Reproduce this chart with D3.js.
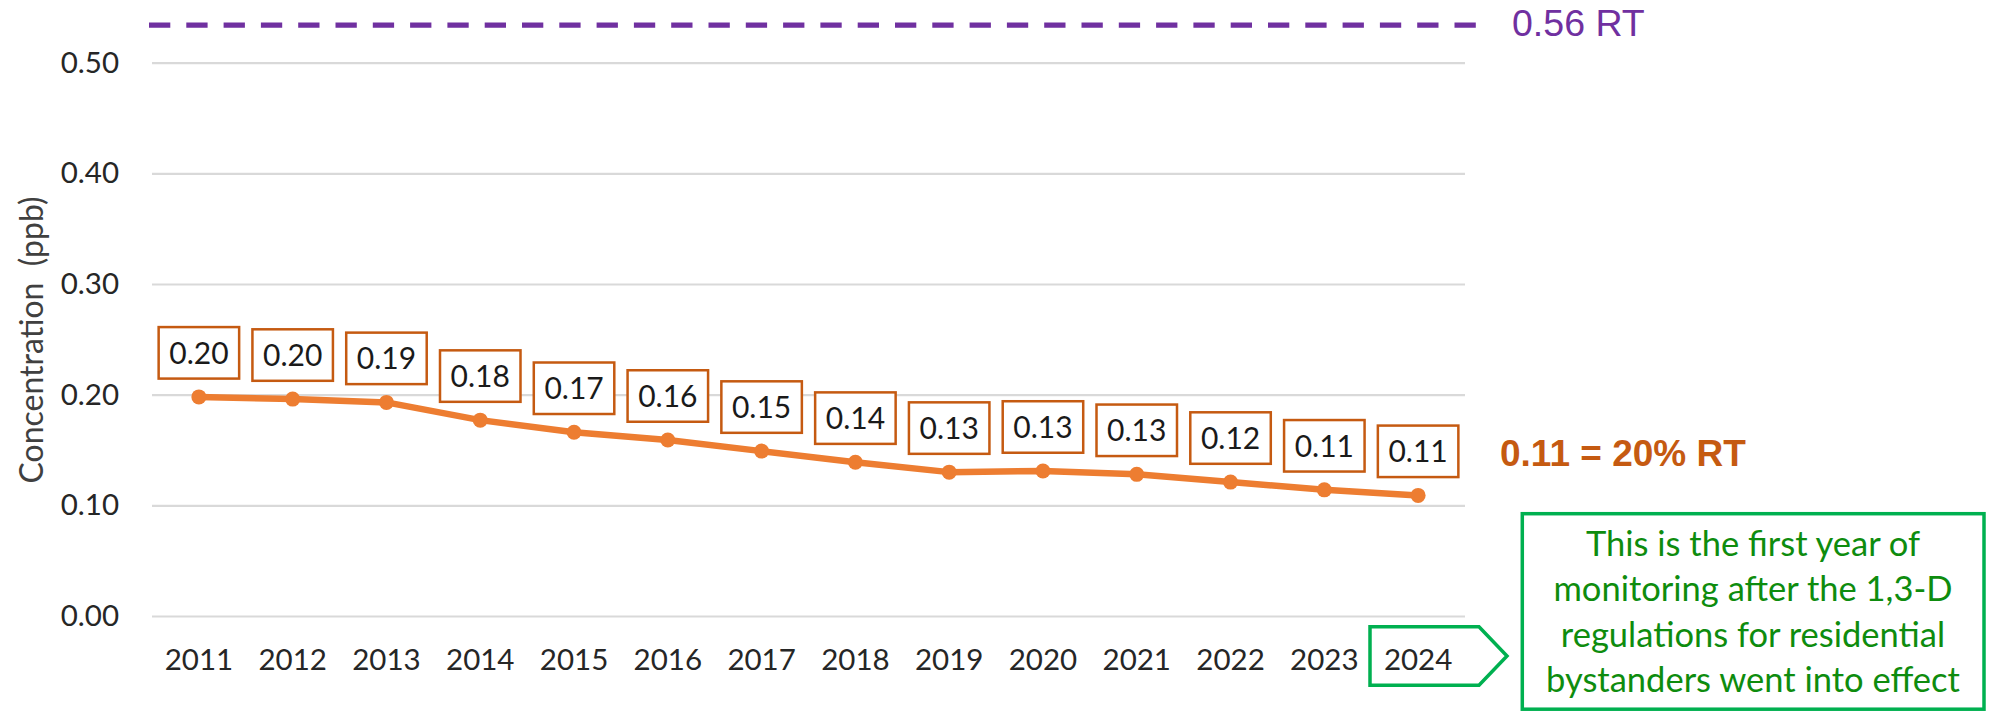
<!DOCTYPE html>
<html>
<head>
<meta charset="utf-8">
<script src="https://cdn.jsdelivr.net/npm/d3@7"></script>
<style>
  body { margin: 0; background: #fff; }
  svg { display: block; }
  text { font-family: Lato, "Open Sans", sans-serif; }
</style>
</head>
<body>
<svg id="chart" width="1994" height="712"></svg>
<script>
// data
var years = ["2011", "2012", "2013", "2014", "2015", "2016", "2017",
             "2018", "2019", "2020", "2021", "2022", "2023", "2024"];
var concentration = [0.198, 0.196, 0.193, 0.177, 0.166, 0.159, 0.149,
                     0.139, 0.130, 0.131, 0.128, 0.121, 0.114, 0.109];
var labels = ["0.20", "0.20", "0.19", "0.18", "0.17", "0.16", "0.15",
              "0.14", "0.13", "0.13", "0.13", "0.12", "0.11", "0.11"];
var yTicks = [0, 0.1, 0.2, 0.3, 0.4, 0.5];
var rtLevel = 0.534;          // where the dashed reference line sits
var rtLabel = "0.56 RT";
var lastLabel = "0.11 = 20% RT";
var note = ["This is the first year of",
            "monitoring after the 1,3-D",
            "regulations for residential",
            "bystanders went into effect"];

var svg = d3.select("#chart");

// plot area (window.top is reserved, so use other names)
var plotL = 152, plotR = 1465, plotT = 62.7, plotB = 616;

var x = d3.scaleBand().domain(years).range([plotL, plotR]);
var y = d3.scaleLinear().domain([0, 0.5]).range([plotB, plotT]);
var cx = function(d) { return x(d) + x.bandwidth() / 2; };

// gridlines + y labels
var yAxis = svg.append("g")
  .attr("transform", "translate(" + plotL + ",0)")
  .call(d3.axisLeft(y).tickValues(yTicks).tickFormat(d3.format(".2f"))
    .tickSize(-(plotR - plotL)).tickPadding(33));
yAxis.select(".domain").remove();
yAxis.selectAll(".tick line").attr("stroke", "#d9d9d9").attr("stroke-width", 2.2);
yAxis.selectAll(".tick text")
  .attr("fill", "#262626")
  .style("font-size", "29.5px")
  .style("font-family", "Lato, sans-serif");

// x labels
var xAxis = svg.append("g")
  .attr("transform", "translate(0," + plotB + ")")
  .call(d3.axisBottom(x).tickSize(0).tickPadding(33));
xAxis.select(".domain").remove();
xAxis.selectAll(".tick text")
  .attr("fill", "#262626")
  .style("font-size", "29.5px")
  .style("font-family", "Lato, sans-serif");

// y title
svg.append("text")
  .attr("transform", "translate(43,340) rotate(-90)")
  .attr("text-anchor", "middle")
  .attr("fill", "#404040")
  .style("font-size", "32px")
  .style("white-space", "pre")
  .text("Concentration  (ppb)");

// reference dashed line
svg.append("line")
  .attr("x1", 149).attr("x2", 1477)
  .attr("y1", y(rtLevel)).attr("y2", y(rtLevel))
  .attr("stroke", "#7030a0")
  .attr("stroke-width", 5.3)
  .attr("stroke-dasharray", "21.3 16");

svg.append("text")
  .attr("x", 1512).attr("y", 36)
  .attr("fill", "#7030a0")
  .style("font-family", "'Liberation Sans', Arial, sans-serif")
  .style("font-size", "37.5px")
  .text(rtLabel);

// series line
var pts = years.map(function(d, i) { return { year: d, v: concentration[i], label: labels[i] }; });

svg.append("path")
  .datum(pts)
  .attr("fill", "none")
  .attr("stroke", "#ed7d31")
  .attr("stroke-width", 6.5)
  .attr("stroke-linejoin", "round")
  .attr("d", d3.line().x(function(d) { return cx(d.year); }).y(function(d) { return y(d.v); }));

svg.append("g").selectAll("circle")
  .data(pts)
  .enter()
  .append("circle")
  .attr("cx", function(d) { return cx(d.year); })
  .attr("cy", function(d) { return y(d.v); })
  .attr("r", 7.5)
  .attr("fill", "#ed7d31");

// data label boxes
var bw = 80.5, bh = 51.5;
var lab = svg.append("g").selectAll("g")
  .data(pts)
  .enter()
  .append("g")
  .attr("transform", function(d) {
    return "translate(" + cx(d.year) + "," + (y(d.v) - 18.3 - bh / 2) + ")";
  });
lab.append("rect")
  .attr("x", -bw / 2).attr("y", -bh / 2)
  .attr("width", bw).attr("height", bh)
  .attr("fill", "#fff")
  .attr("stroke", "#c55a11")
  .attr("stroke-width", 2.5);
lab.append("text")
  .attr("text-anchor", "middle")
  .attr("dy", "0.36em")
  .attr("fill", "#1a1a1a")
  .style("font-size", "30px")
  .text(function(d) { return d.label; });

svg.append("text")
  .attr("x", 1500).attr("y", 466)
  .attr("fill", "#c55a11")
  .style("font-family", "'Liberation Sans', Arial, sans-serif")
  .style("font-weight", "bold")
  .style("font-size", "37px")
  .text(lastLabel);

// arrow around the 2024 label
svg.append("path")
  .attr("d", d3.line()([[1370, 626.7], [1479, 626.7], [1507, 656], [1479, 685.3], [1370, 685.3]]) + "Z")
  .attr("fill", "none")
  .attr("stroke", "#00b050")
  .attr("stroke-width", 3.5);

// callout box
svg.append("rect")
  .attr("x", 1522.3).attr("y", 513.7)
  .attr("width", 461.7).attr("height", 195.5)
  .attr("fill", "#fff")
  .attr("stroke", "#00b050")
  .attr("stroke-width", 3.5);

svg.append("g").selectAll("text")
  .data(note)
  .enter()
  .append("text")
  .attr("x", 1753)
  .attr("y", function(d, i) { return 556 + i * 45.4; })
  .attr("text-anchor", "middle")
  .attr("fill", "#0e8c0e")
  .style("font-size", "34.5px")
  .text(function(d) { return d; });
</script>
</body>
</html>
